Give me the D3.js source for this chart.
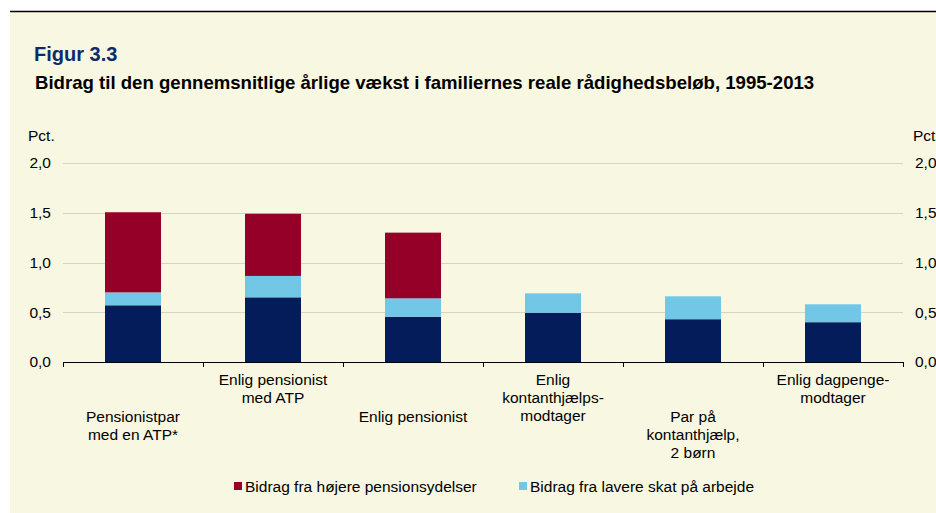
<!DOCTYPE html>
<meta charset="utf-8">
<style>
  body { margin: 0; background: #fff; }
  text { font-family: "Liberation Sans", Arial, sans-serif; }
</style>
<body>
<script src="https://d3js.org/d3.v7.min.js"></script>
<script>
// categories (label lines) and the three stacked series
var categories = [
  ["Pensionistpar", "med en ATP*"],
  ["Enlig pensionist", "med ATP"],
  ["Enlig pensionist"],
  ["Enlig", "kontanthjælps-", "modtager"],
  ["Par på", "kontanthjælp,", "2 børn"],
  ["Enlig dagpenge-", "modtager"]
];
var base      = [0.57, 0.65, 0.455, 0.495, 0.43, 0.40];
var skat      = [0.13, 0.215, 0.185, 0.195, 0.23, 0.18];
var pension   = [0.805, 0.625, 0.66, 0, 0, 0];
var yTicks    = [0, 0.5, 1.0, 1.5, 2.0];
var legendNames = ["Bidrag fra højere pensionsydelser", "Bidrag fra lavere skat på arbejde"];

var W = 936, H = 513;
var colors = { base: "#041c5a", skat: "#72c7e6", pension: "#950029" };
var fs = 15.5;

var svg = d3.select("body").append("svg")
    .attr("width", W).attr("height", H);

// panel background and top rule
svg.append("rect").attr("x", 10).attr("y", 11).attr("width", W - 10).attr("height", H - 11)
    .attr("fill", "#f8f7e1");
svg.append("line").attr("x1", 10).attr("x2", W).attr("y1", 11.5).attr("y2", 11.5)
    .attr("stroke", "#000").attr("stroke-width", 1.5);

svg.append("text").attr("x", 34).attr("y", 61)
    .attr("font-size", 20).attr("font-weight", "bold").attr("fill", "#0d2b6b")
    .text("Figur 3.3");
svg.append("text").attr("x", 35).attr("y", 89)
    .attr("font-size", 18.6).attr("font-weight", "bold").attr("fill", "#000")
    .text("Bidrag til den gennemsnitlige årlige vækst i familiernes reale rådighedsbeløb, 1995-2013");

var plotL = 63, plotR = 903, plotT = 163, plotB = 362;

var x = d3.scaleBand().domain(d3.range(categories.length)).range([plotL, plotR]).padding(0);
var y = d3.scaleLinear().domain([0, 2]).range([plotB, plotT]);

// gridlines
svg.append("g").selectAll("line").data(yTicks.slice(1)).enter().append("line")
    .attr("x1", plotL).attr("x2", plotR)
    .attr("y1", function(d) { return Math.round(y(d)) + 0.5; })
    .attr("y2", function(d) { return Math.round(y(d)) + 0.5; })
    .attr("stroke", "#d6d3c4").attr("stroke-width", 1);

var fmt = function(d) { return d3.format(".1f")(d).replace(".", ","); };

// left and right axis labels
var yl = svg.append("g").attr("transform", "translate(" + (plotL - 12) + ",0)")
    .call(d3.axisLeft(y).tickValues(yTicks).tickFormat(fmt).tickSize(0));
yl.select(".domain").remove();
var yr = svg.append("g").attr("transform", "translate(" + (plotR + 12) + ",0)")
    .call(d3.axisRight(y).tickValues(yTicks).tickFormat(fmt).tickSize(0));
yr.select(".domain").remove();
svg.selectAll(".tick text").attr("font-size", fs).attr("fill", "#000")
    .attr("font-family", "Liberation Sans, Arial, sans-serif");
yl.selectAll(".tick text").attr("x", 0);
yr.selectAll(".tick text").attr("x", 0);

svg.append("text").attr("x", 28).attr("y", 141).attr("font-size", fs).text("Pct.");
svg.append("text").attr("x", 913).attr("y", 141).attr("font-size", fs).text("Pct.");

// stacked bars
var rows = categories.map(function(c, i) {
  return { i: i, base: base[i], skat: skat[i], pension: pension[i] };
});
var stack = d3.stack().keys(["base", "skat", "pension"])(rows);
var bw = x.bandwidth() * 0.4;

svg.append("g").selectAll("g").data(stack).enter().append("g")
    .attr("fill", function(d) { return colors[d.key]; })
  .selectAll("rect").data(function(d) { return d.filter(function(p) { return p[1] > p[0]; }); })
  .enter().append("rect")
    .attr("x", function(d) { return x(d.data.i) + (x.bandwidth() - bw) / 2; })
    .attr("width", bw)
    .attr("y", function(d) { return y(d[1]); })
    .attr("height", function(d) { return y(d[0]) - y(d[1]); });

// x axis with ticks between categories
var tickPos = d3.range(categories.length + 1).map(function(i) { return plotL + i * x.step(); });
svg.append("line").attr("x1", plotL).attr("x2", plotR).attr("y1", plotB + 0.5).attr("y2", plotB + 0.5)
    .attr("stroke", "#000").attr("stroke-width", 1.2);
svg.append("g").selectAll("line").data(tickPos).enter().append("line")
    .attr("x1", function(d) { return d + 0.5; }).attr("x2", function(d) { return d + 0.5; })
    .attr("y1", plotB).attr("y2", plotB + 5)
    .attr("stroke", "#000");

// staggered category labels
svg.append("g").selectAll("text").data(categories).enter().append("text")
    .attr("text-anchor", "middle")
    .attr("font-size", fs)
    .attr("x", function(d, i) { return x(i) + x.bandwidth() / 2; })
    .attr("y", function(d, i) { return i % 2 === 0 ? 422 : 385; })
    .each(function(lines) {
      var t = d3.select(this), x0 = t.attr("x");
      lines.forEach(function(l, k) {
        t.append("tspan").attr("x", x0).attr("dy", k === 0 ? 0 : 18).text(l);
      });
    });

// legend
var legendX = [234, 519];
var lg = svg.append("g").selectAll("g").data(legendNames).enter().append("g")
    .attr("transform", function(d, i) { return "translate(" + legendX[i] + ",482)"; });
lg.append("rect").attr("width", 8).attr("height", 8)
    .attr("fill", function(d, i) { return i === 0 ? colors.pension : colors.skat; });
lg.append("text").attr("x", 11).attr("y", 9.5).attr("font-size", fs).text(function(d) { return d; });
</script>
</body>
